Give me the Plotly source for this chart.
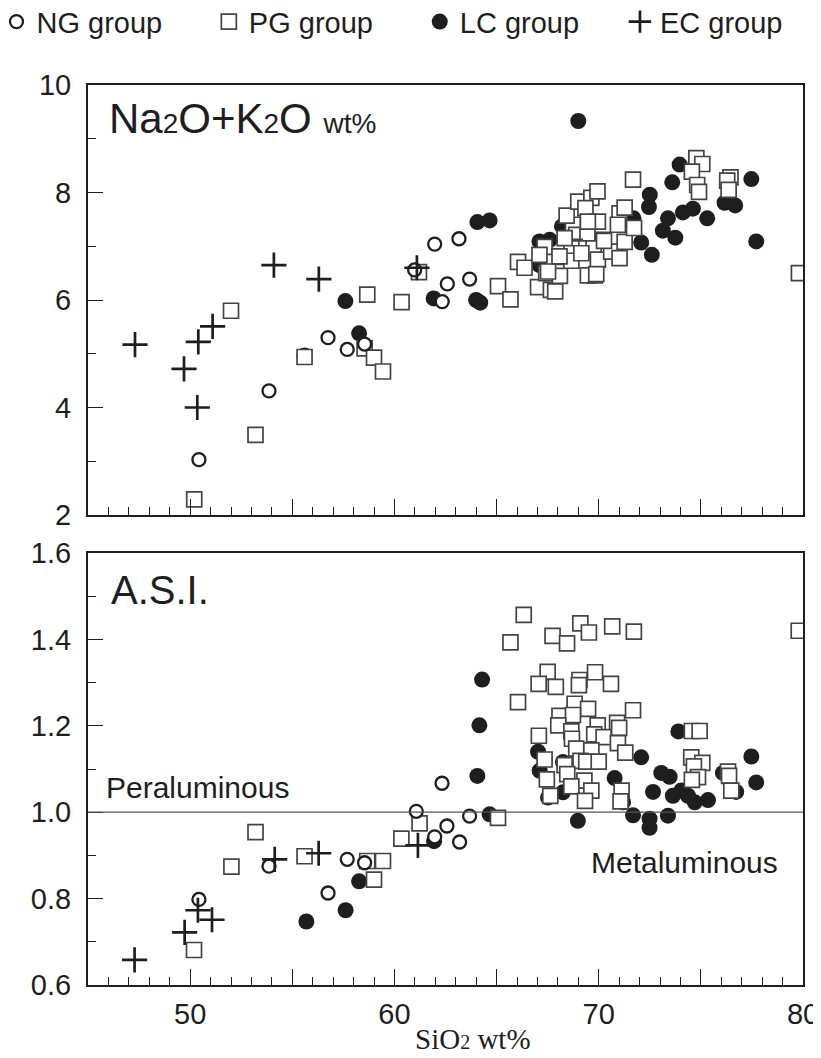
import plotly.graph_objects as go

# ---- data (SiO2 wt%, value) ----
# top panel: Na2O+K2O wt%
ng_top_x = [50.43, 53.86, 56.75, 57.69, 58.54, 60.99, 61.97, 63.16, 62.59, 63.68, 62.34]
ng_top_y = [3.03, 4.31, 5.30, 5.08, 5.18, 6.56, 7.04, 7.14, 6.30, 6.39, 5.97]

pg_top_x = [50.2, 53.2, 52.0, 55.6, 58.67, 58.54, 59.0, 59.44, 60.35, 61.2,
            65.07, 65.68, 66.05, 66.37, 67.03, 67.66, 67.87, 67.35, 67.1, 67.43,
            68.1, 68.2, 68.74, 68.43, 69.0, 69.64, 69.94, 69.35, 68.9, 69.45,
            68.82, 69.3, 69.96, 69.47, 70.21, 69.75, 69.96, 70.61, 71.02, 71.27,
            71.02, 71.27, 70.94, 71.73, 69.8, 69.47, 68.66, 68.66, 68.33, 69.15,
            70.26, 71.68, 74.78, 75.07, 74.56, 74.82, 74.91, 76.45, 76.29, 76.36,
            79.8, 67.52, 68.08, 69.88]
pg_top_y = [2.29, 3.49, 5.80, 4.94, 6.10, 5.10, 4.93, 4.67, 5.96, 6.52,
            6.26, 6.01, 6.71, 6.60, 6.24, 6.19, 6.16, 6.99, 6.84, 6.50,
            6.45, 6.80, 7.40, 7.57, 7.83, 7.90, 8.02, 7.71, 7.21, 7.18,
            6.99, 6.96, 7.46, 7.46, 7.12, 6.96, 6.75, 6.90, 6.78, 7.08,
            7.61, 7.72, 7.40, 7.34, 6.46, 6.46, 6.96, 6.73, 7.15, 6.87,
            7.10, 8.24, 8.64, 8.53, 8.39, 8.14, 8.01, 8.28, 8.22, 8.05,
            6.50, 6.53, 6.81, 6.48]

lc_top_x = [55.6, 57.6, 58.27, 61.92, 64.0, 64.2, 64.06, 64.66, 67.1, 67.6,
            67.1, 68.2, 69.0, 71.7, 72.08, 72.6, 72.5, 72.46, 73.14, 73.39,
            73.6, 73.75, 73.96, 74.12, 74.61, 75.31, 76.16, 76.68, 77.47, 77.71]
lc_top_y = [4.97, 5.98, 5.38, 6.03, 6.0, 5.95, 7.45, 7.48, 7.09, 7.12,
            6.65, 7.37, 9.33, 7.52, 7.07, 6.84, 7.96, 7.73, 7.29, 7.52,
            8.19, 7.16, 8.52, 7.63, 7.70, 7.52, 7.81, 7.76, 8.25, 7.09]

ec_top_x = [47.3, 50.4, 51.1, 49.7, 50.35, 54.1, 56.3, 61.1]
ec_top_y = [5.17, 5.22, 5.51, 4.72, 4.00, 6.65, 6.39, 6.60]

# bottom panel: A.S.I.
ng_bot_x = [50.43, 53.86, 56.75, 57.69, 58.54, 61.07, 61.97, 62.57, 63.19, 63.68, 62.33]
ng_bot_y = [0.798, 0.875, 0.813, 0.891, 0.883, 1.002, 0.943, 0.968, 0.931, 0.991, 1.067]

pg_bot_x = [50.19, 53.2, 52.02, 55.6, 58.67, 59.44, 59.0, 60.34, 61.23, 65.07,
            66.33, 65.68, 66.05, 67.74, 68.45, 69.1, 69.52, 70.66, 71.72, 79.79,
            67.5, 67.06, 67.9, 69.06, 69.03, 69.82, 70.6, 68.82, 69.48, 71.68,
            68.08, 68.74, 68.02, 68.66, 69.95, 70.9, 71.0, 69.78, 70.24, 67.07,
            68.69, 70.94, 71.3, 68.9, 69.64, 67.35, 68.33, 69.11, 69.39, 70.0,
            68.46, 67.46, 69.3, 68.66, 69.64, 67.63, 69.33, 71.12, 71.07, 74.53,
            75.07, 74.66, 74.86, 74.56, 76.33, 76.38, 76.49, 74.56, 74.94]
pg_bot_y = [0.681, 0.954, 0.874, 0.898, 0.887, 0.887, 0.844, 0.939, 0.974, 0.987,
            1.457, 1.393, 1.255, 1.408, 1.391, 1.437, 1.416, 1.430, 1.418, 1.420,
            1.325, 1.297, 1.290, 1.306, 1.294, 1.324, 1.297, 1.251, 1.239, 1.236,
            1.223, 1.225, 1.201, 1.187, 1.201, 1.207, 1.195, 1.180, 1.174, 1.177,
            1.170, 1.160, 1.138, 1.147, 1.143, 1.122, 1.109, 1.119, 1.117, 1.117,
            1.088, 1.076, 1.073, 1.060, 1.050, 1.038, 1.026, 1.050, 1.025, 1.127,
            1.114, 1.106, 1.081, 1.075, 1.094, 1.084, 1.050, 1.188, 1.188]

lc_bot_x = [55.69, 57.61, 58.27, 61.94, 64.06, 64.66, 64.29, 64.16, 68.98, 67.03,
            67.11, 67.52, 68.25, 68.25, 70.78, 72.08, 71.19, 71.68, 72.49, 72.49,
            73.39, 72.66, 73.06, 73.47, 73.63, 74.04, 74.37, 74.7, 75.35, 73.9,
            76.08, 76.73, 77.47, 77.71]
lc_bot_y = [0.747, 0.773, 0.840, 0.933, 1.084, 0.995, 1.307, 1.201, 0.980, 1.140,
            1.096, 1.034, 1.046, 1.116, 1.079, 1.127, 1.023, 0.993, 0.985, 0.964,
            0.992, 1.047, 1.091, 1.082, 1.038, 1.050, 1.038, 1.023, 1.028, 1.187,
            1.091, 1.047, 1.129, 1.069]

ec_bot_x = [47.28, 49.73, 50.38, 51.07, 54.14, 56.29, 61.15]
ec_bot_y = [0.658, 0.722, 0.773, 0.751, 0.891, 0.905, 0.923]

INK = "#1e1e1e"
SANS = "Liberation Sans, Arial, sans-serif"

styles = {
    "NG": dict(symbol="circle", size=13, color="white", line=dict(color=INK, width=2.3)),
    "PG": dict(symbol="square", size=15, color="white", line=dict(color="#444444", width=1.7)),
    "LC": dict(symbol="circle", size=16, color=INK, line=dict(width=0)),
    "EC": dict(symbol="cross-thin", size=18, color=INK, line=dict(color=INK, width=2.7)),
}
# one legend box per group so the entries sit where the reference has them
legend_of = {"NG": "legend", "PG": "legend2", "LC": "legend3", "EC": "legend4"}
legend_x = {"NG": -0.128, "PG": 0.169, "LC": 0.464, "EC": 0.744}

fig = go.Figure()

# draw order: LC underneath, then PG squares, NG circles, EC crosses
panels = [
    ("y", {"LC": (lc_top_x, lc_top_y), "PG": (pg_top_x, pg_top_y),
           "NG": (ng_top_x, ng_top_y), "EC": (ec_top_x, ec_top_y)}, True),
    ("y2", {"LC": (lc_bot_x, lc_bot_y), "PG": (pg_bot_x, pg_bot_y),
            "NG": (ng_bot_x, ng_bot_y), "EC": (ec_bot_x, ec_bot_y)}, False),
]
for yax, groups, show in panels:
    for g in ["LC", "PG", "NG", "EC"]:
        xs, ys = groups[g]
        fig.add_trace(go.Scatter(
            x=xs, y=ys, mode="markers", name=g + " group",
            xaxis="x" if yax == "y" else "x2", yaxis=yax,
            marker=styles[g], showlegend=show, legend=legend_of[g],
            hoverinfo="x+y",
        ))

# A.S.I. = 1 boundary
fig.add_shape(type="line", xref="x2 domain", yref="y2", x0=0, x1=1, y0=1.0, y1=1.0,
              line=dict(color="#555555", width=1.3))

frame = dict(showline=True, linecolor=INK, linewidth=2, mirror=True,
             showgrid=False, zeroline=False, ticks="inside", tickcolor=INK)

xcommon = dict(frame, range=[45, 80], tickvals=[45, 50, 55, 60, 65, 70, 75, 80],
               ticklen=16, tickwidth=1.3,
               minor=dict(dtick=1, ticks="inside", ticklen=8, tickcolor=INK, tickwidth=1.1))
ycommon = dict(frame, ticklen=15, tickwidth=1.3, ticklabelstandoff=9,
               tickfont=dict(size=29))

legends = {}
for g, key in legend_of.items():
    legends[key] = dict(orientation="h", xref="paper", yref="container",
                        x=legend_x[g], y=0.987, xanchor="left", yanchor="middle",
                        font=dict(size=29), itemwidth=30, bgcolor="rgba(0,0,0,0)")

fig.update_layout(
    width=821, height=1058,
    margin=dict(l=80, r=26, t=77, b=81, autoexpand=False),
    paper_bgcolor="white", plot_bgcolor="white",
    font=dict(family=SANS, color=INK, size=27),
    xaxis=dict(xcommon, anchor="y", showticklabels=False, matches="x2"),
    xaxis2=dict(xcommon, anchor="y2",
                ticktext=["", "50", "", "60", "", "70", "", "80"],
                tickfont=dict(size=29), ticklabelstandoff=2),
    yaxis=dict(ycommon, domain=[0.5222, 1], range=[2, 10], tickvals=[2, 4, 6, 8, 10],
               minor=dict(dtick=1, ticks="inside", ticklen=8, tickcolor=INK, tickwidth=1.1)),
    yaxis2=dict(ycommon, domain=[0, 0.48], range=[0.6, 1.6],
                tickvals=[0.6, 0.8, 1.0, 1.2, 1.4, 1.6],
                ticktext=["0.6", "0.8", "1.0", "1.2", "1.4", "1.6"],
                minor=dict(dtick=0.1, ticks="inside", ticklen=8, tickcolor=INK, tickwidth=1.1)),
    showlegend=True,
    **legends,
)

fig.add_annotation(xref="x domain", yref="y domain", x=0.026, y=0.921,
                   xanchor="left", yanchor="middle", showarrow=False,
                   text="Na<span style='font-size:28px'>2</span>O+K<span style='font-size:28px'>2</span>O"
                        " <span style='font-size:28px'>wt%</span>",
                   font=dict(size=42))
fig.add_annotation(xref="x2 domain", yref="y2 domain", x=0.029, y=0.914,
                   xanchor="left", yanchor="middle", showarrow=False,
                   text="A.S.I.", font=dict(size=40))
fig.add_annotation(xref="x2 domain", yref="y2", x=0.022, y=1.058,
                   xanchor="left", yanchor="middle", showarrow=False,
                   text="Peraluminous", font=dict(size=30))
fig.add_annotation(xref="x2 domain", yref="y2", x=0.968, y=0.884,
                   xanchor="right", yanchor="middle", showarrow=False,
                   text="Metaluminous", font=dict(size=30))
# axis title, set as text under the tick labels
fig.add_annotation(xref="x2 domain", yref="y2 domain", x=0.538, y=-0.125,
                   xanchor="center", yanchor="middle", showarrow=False,
                   text="SiO<span style='font-size:20px'>2</span> wt%",
                   font=dict(family="Liberation Serif, Times New Roman, serif", size=29))

fig.write_html("out.html")
